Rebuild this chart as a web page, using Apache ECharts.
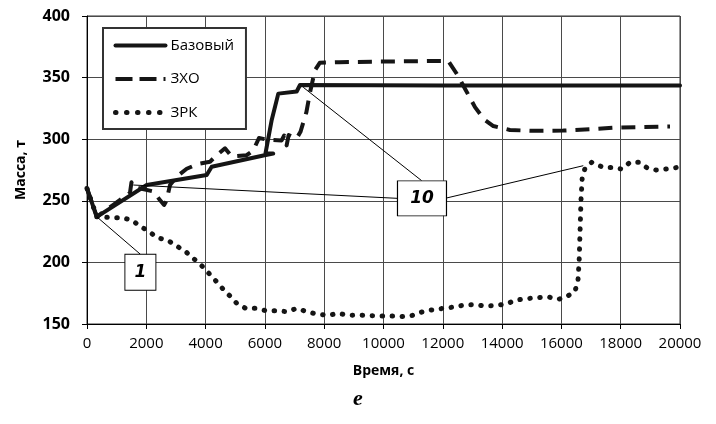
<!DOCTYPE html>
<html>
<head>
<meta charset="utf-8">
<script src="https://cdn.jsdelivr.net/npm/echarts@6/dist/echarts.min.js"></script>
<style>
  html, body { margin: 0; padding: 0; background: #fff; }
  #chart { width: 716px; height: 424px; }
</style>
</head>
<body>
<div id="chart"></div>
<script>
// Axis ranges
const timeRange = [0, 20000, 2000];
const massRange = [150, 400, 50];

// Series names
const seriesNames = ['Базовый', 'ЗХО', 'ЗРК'];

// Mass over time, [time s, mass t]
const baseValues = [
  [0, 260], [330, 237], [2013, 262.8], [4037, 271], [4205, 277.7], [5950, 286.8],
  [6280, 288.3], [6020, 288.5], [6230, 315.6], [6452, 337], [7072, 338.7], [7184, 344],
  [12000, 343.5], [20000, 343.5]
];

const zxoValues = [
  [0, 260], [330, 237], [900, 247], [1450, 256.5], [1500, 265], [1530, 261.5],
  [2250, 257.5], [2460, 250.6], [2600, 246.6], [2680, 250], [2800, 262.8], [3025, 269.6],
  [3363, 276], [3755, 280], [4150, 281.7], [4374, 287], [4654, 292.6], [4880, 286],
  [5385, 287], [5610, 291], [5800, 301], [6100, 299.5], [6565, 299], [6650, 303],
  [6733, 295], [6800, 303.4], [7072, 300.7], [7200, 306], [7400, 322], [7521, 338],
  [7690, 356], [7850, 362], [8500, 362.5], [10000, 363], [11800, 363.5], [12186, 363.5],
  [12500, 352], [12749, 341], [13086, 326], [13400, 316], [13704, 310.7], [14266, 307.5],
  [15000, 306.8], [16065, 307], [17000, 308.2], [17864, 309.5], [19663, 310.3]
];

const zrkValues = [
  [0, 260], [330, 237], [888, 236.3], [1170, 236.3], [1507, 234.4], [1787, 229.5],
  [2091, 225], [2372, 220], [2720, 218], [3024, 213.3], [3329, 208.7], [3587, 203.3],
  [3845, 197.9], [4092, 191.6], [4317, 185.7], [4564, 179], [4823, 172.7], [5048, 166.8],
  [5352, 162.7], [5689, 162.7], [6037, 160.8], [6397, 160.8], [6756, 160], [7072, 162.7],
  [7409, 160], [7768, 158], [8139, 157], [8476, 158.7], [8813, 157], [9208, 157.3],
  [9545, 156.7], [9916, 156.5], [10276, 156.5], [10613, 156], [10972, 157], [11288, 159.7],
  [11625, 161.4], [12017, 162.7], [12377, 163.8], [12726, 165.4], [13086, 165.7],
  [13423, 164.6], [13783, 164.9], [14120, 166.2], [14491, 169.5], [14851, 170.6],
  [15199, 171.4], [15559, 172], [15896, 170], [16177, 172.2], [16459, 176.5],
  [16560, 185.7], [16600, 202], [16630, 226], [16660, 250], [16700, 268], [16796, 276.4],
  [17021, 281.2], [17190, 279], [17471, 277], [17696, 277], [18033, 275.8], [18313, 281.2],
  [18628, 281.2], [18876, 277], [19191, 275], [19528, 275.8], [19888, 277], [20000, 277]
];

// Callout labels: text, box centre [time, mass]
const calloutLabels = ['1', '10'];
const calloutCentres = [[1801, 192.0], [11298, 252.0]];
// Leader lines: [from (box edge), to (curve point)] in [time, mass]
const leaderLines = [
  [[1801, 206.6], [330, 237]],
  [[10465, 252.0], [1560, 262.8]],
  [[11288, 266.3], [7295, 342.1]],
  [[12132, 252.3], [16739, 278.5]]
];

const INK = '#151515';
const SANS = '"Open Sans", "DejaVu Sans", sans-serif';

const chart = echarts.init(document.getElementById('chart'), null, { renderer: 'canvas' });

const solidStyle = { color: INK, width: 4, type: 'solid', cap: 'round', join: 'round' };
const dashStyle = { color: INK, width: 4, type: [14, 9], cap: 'butt', join: 'round' };
const dotStyle = { color: INK, width: 5, type: [0.5, 9.5], cap: 'round', join: 'round' };

chart.setOption({
  animation: false,
  backgroundColor: '#fff',
  grid: {
    left: 87, right: 36, top: 16, bottom: 100,
    show: true, borderColor: '#333', borderWidth: 1
  },
  legend: {
    orient: 'vertical',
    left: 103, top: 28,
    padding: [10, 12, 9, 10],
    itemWidth: 50, itemHeight: 14, itemGap: 18.5,
    backgroundColor: '#fff',
    borderColor: '#333', borderWidth: 2,
    selectedMode: false,
    itemStyle: { opacity: 0, borderWidth: 0 },
    textStyle: { fontFamily: SANS, fontSize: 15, color: '#000' },
    data: [
      { name: seriesNames[0], lineStyle: { width: 4, type: 'solid', opacity: 1 } },
      { name: seriesNames[1], lineStyle: { width: 4, type: [17, 7], opacity: 1 } },
      { name: seriesNames[2], lineStyle: { width: 5, type: [0.5, 10.5], cap: 'round', opacity: 1 } }
    ]
  },
  xAxis: {
    type: 'value',
    min: timeRange[0], max: timeRange[1], interval: timeRange[2],
    name: 'Время, с',
    nameLocation: 'middle', nameGap: 40,
    nameTextStyle: { fontFamily: SANS, fontSize: 14, fontWeight: 'bold', color: '#000' },
    axisLine: { show: true, lineStyle: { color: '#000', width: 1 } },
    axisTick: { show: true, length: 5, lineStyle: { color: '#000' } },
    axisLabel: {
      fontFamily: SANS, fontSize: 15, color: '#000', margin: 12,
      formatter: v => String(v)
    },
    splitLine: { show: true, lineStyle: { color: '#4a4a4a', width: 1 } }
  },
  yAxis: {
    type: 'value',
    min: massRange[0], max: massRange[1], interval: massRange[2],
    name: 'Масса, т',
    nameLocation: 'middle', nameGap: 59,
    nameTextStyle: { fontFamily: SANS, fontSize: 14, fontWeight: 'bold', color: '#000' },
    axisLine: { show: true, lineStyle: { color: '#000', width: 1 } },
    axisTick: { show: true, length: 5, lineStyle: { color: '#000' } },
    axisLabel: {
      fontFamily: SANS, fontSize: 16, fontWeight: 'bold', color: '#000', margin: 17,
      formatter: v => String(v)
    },
    splitLine: { show: true, lineStyle: { color: '#4a4a4a', width: 1 } }
  },
  series: [
    {
      name: seriesNames[2], type: 'line', data: zrkValues,
      symbol: 'none', showSymbol: false, z: 2,
      lineStyle: dotStyle, itemStyle: { color: INK }
    },
    {
      name: seriesNames[1], type: 'line', data: zxoValues,
      symbol: 'none', showSymbol: false, z: 3,
      lineStyle: dashStyle, itemStyle: { color: INK }
    },
    {
      name: seriesNames[0], type: 'line', data: baseValues,
      symbol: 'none', showSymbol: false, z: 4,
      lineStyle: solidStyle, itemStyle: { color: INK }
    },
    {
      // Callouts with leader lines
      name: 'callouts', type: 'line', data: [], z: 6,
      markLine: {
        silent: true, symbol: ['none', 'none'], animation: false,
        label: { show: false },
        lineStyle: { color: '#000', width: 1, type: 'solid' },
        data: leaderLines.map(l => [{ coord: l[0] }, { coord: l[1] }])
      },
      markPoint: {
        silent: true, animation: false,
        data: calloutLabels.map((t, i) => ({
          coord: calloutCentres[i],
          symbol: 'rect',
          symbolSize: t.length > 1 ? [49, 35] : [31, 36],
          itemStyle: { color: '#fff', borderColor: '#000', borderWidth: 1 },
          label: {
            show: true, position: 'inside', formatter: t,
            fontFamily: '"DejaVu Sans", sans-serif', fontSize: 17,
            fontWeight: 'bold', fontStyle: 'italic', color: '#000'
          }
        }))
      }
    }
  ],
  graphic: [
    {
      type: 'text',
      left: 'center', top: 388,
      style: {
        text: 'е',
        font: 'italic bold 22px "Liberation Serif", "DejaVu Serif", serif',
        fill: '#000'
      }
    }
  ]
});
</script>
</body>
</html>
